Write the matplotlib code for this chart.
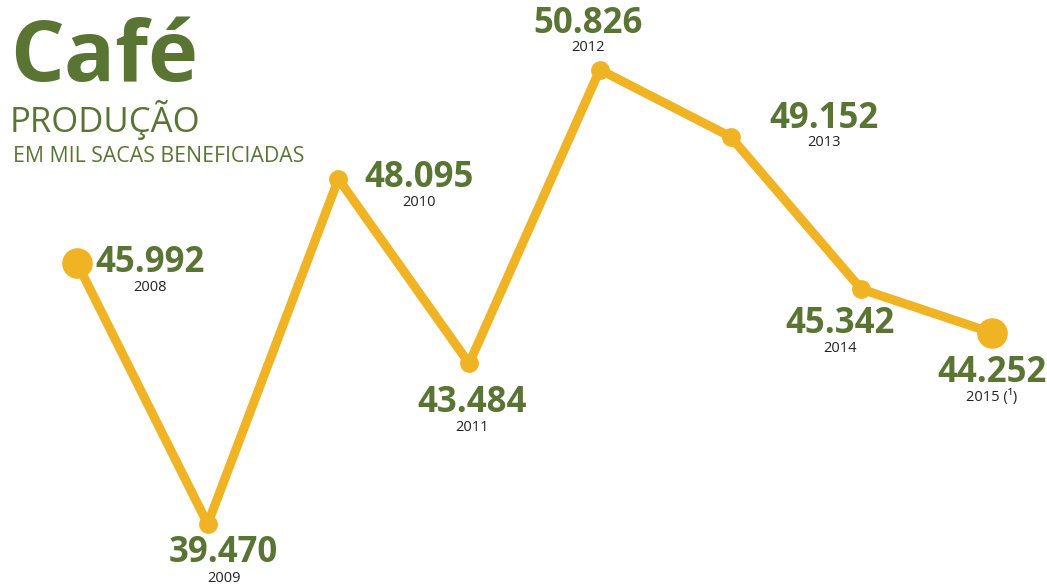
import matplotlib
matplotlib.use("Agg")
import matplotlib.pyplot as plt

years = ["2008", "2009", "2010", "2011", "2012", "2013", "2014", "2015 (¹)"]
values = [45.992, 39.470, 48.095, 43.484, 50.826, 49.152, 45.342, 44.252]

# label offsets in pixels (value label), year label sits below
offsets = [(73, 0), (16, -29), (81, 1), (3, -40), (-12, 46), (93, 18), (-21, -35), (0, -40)]
year_gap = [24, 25, 24, 24, 24, 24, 24, 24]

GREEN = "#5a7434"
GOLD = "#f0b323"
FONT = "Open Sans"

fig = plt.figure(figsize=(10.47, 5.86), dpi=100)
ax = fig.add_axes([0, 0, 1, 1])
ax.set_xlim(-0.589, 7.421)
ax.set_ylim(37.92, 52.57)
ax.axis("off")

x = list(range(len(values)))
ax.plot(x, values, color=GOLD, lw=6.5, solid_capstyle="round", solid_joinstyle="round", zorder=2)
ax.plot(x[1:-1], values[1:-1], "o", color=GOLD, ms=12.5, zorder=3)
ax.plot([x[0], x[-1]], [values[0], values[-1]], "o", color=GOLD, ms=21, zorder=3)

for xi, v, yr, (dx, dy), g in zip(x, values, years, offsets, year_gap):
    ax.annotate(f"{v:.3f}", (xi, v), xytext=(dx, dy), textcoords="offset pixels",
                ha="center", va="center", fontsize=25, fontweight="bold",
                color=GREEN, family=FONT)
    ax.annotate(yr, (xi, v), xytext=(dx, dy - g), textcoords="offset pixels",
                ha="center", va="center", fontsize=10.5, color="#222222", family=FONT)

fig.text(10 / 1047, 1 - 59 / 586, "Café", fontsize=61, fontweight="bold",
         color=GREEN, family=FONT, va="center", ha="left")
fig.text(10 / 1047, 1 - 120 / 586, "PRODUÇÃO", fontsize=25, color=GREEN,
         family=FONT, va="center", ha="left")
fig.text(13 / 1047, 1 - 156 / 586, "EM MIL SACAS BENEFICIADAS", fontsize=15.3,
         color=GREEN, family=FONT, va="center", ha="left")

fig.savefig("out.png", dpi=100)
